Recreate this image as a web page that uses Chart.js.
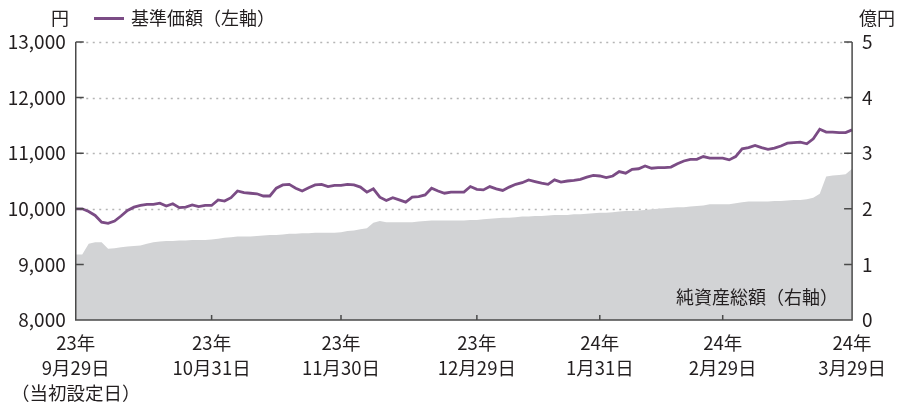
<!DOCTYPE html>
<html lang="ja">
<head>
<meta charset="utf-8">
<script src="https://cdn.jsdelivr.net/npm/chart.js@4.4.1/dist/chart.umd.min.js"></script>
<style>
  body  { margin: 0; background: #fff; }
  #wrap { position: relative; width: 897px; height: 404px; font-family: 'Noto Sans CJK JP', sans-serif; color: #231f20; }
  #chart { position: absolute; left: 0; top: 0; }
  .lbl  { position: absolute; font-size: 18px; line-height: 20px; white-space: nowrap; }
  .swatch { position: absolute; left: 94px; top: 17px; width: 30px; height: 3px; background: #7b4c85; }
</style>
</head>
<body>
<div id="wrap">
  <canvas id="chart" width="897" height="404"></canvas>
  <div class="lbl" style="left:51px;top:7px">円</div>
  <div class="swatch"></div>
  <div class="lbl" style="left:131px;top:7px">基準価額（左軸）</div>
  <div class="lbl" style="left:859px;top:7px">億円</div>
  <div class="lbl" style="left:676px;top:286px">純資産総額（右軸）</div>
</div>
<script>
/* ── Data ───────────────────────────────────────────────────── */
// trading days from 23/9/29 to 24/3/29 (121 points)
const days = Array.from({ length: 121 }, (_, i) => i);

// 基準価額 (円, left axis)
const navPrice = [
  10000, 10000,  9950,  9880,  9760,  9740,  9780,  9870,  9970, 10030,
  10060, 10080, 10080, 10100, 10050, 10090, 10020, 10030, 10070, 10040,
  10060, 10060, 10160, 10140, 10200, 10320, 10290, 10280, 10270, 10230,
  10230, 10370, 10430, 10440, 10370, 10320, 10380, 10430, 10440, 10400,
  10420, 10420, 10440, 10430, 10390, 10300, 10360, 10210, 10150, 10200,
  10160, 10120, 10210, 10220, 10250, 10370, 10320, 10280, 10300, 10300,
  10300, 10400, 10350, 10340, 10400, 10360, 10330, 10390, 10440, 10470,
  10520, 10490, 10460, 10440, 10520, 10480, 10500, 10510, 10530, 10570,
  10600, 10590, 10560, 10590, 10670, 10640, 10710, 10720, 10770, 10730,
  10740, 10740, 10750, 10810, 10860, 10890, 10890, 10940, 10910, 10910,
  10910, 10880, 10940, 11080, 11100, 11140, 11100, 11070, 11090, 11130,
  11180, 11190, 11200, 11170, 11260, 11430, 11380, 11380, 11370, 11370,
  11420
];

// 純資産総額 (億円, right axis)
const netAssets = [
  1.18, 1.18, 1.37, 1.40, 1.40, 1.28, 1.29, 1.31, 1.32, 1.33,
  1.34, 1.37, 1.40, 1.41, 1.42, 1.42, 1.43, 1.43, 1.44, 1.44,
  1.44, 1.45, 1.46, 1.48, 1.49, 1.50, 1.50, 1.50, 1.51, 1.52,
  1.53, 1.53, 1.54, 1.55, 1.55, 1.56, 1.56, 1.57, 1.57, 1.57,
  1.57, 1.58, 1.60, 1.61, 1.63, 1.65, 1.75, 1.78, 1.76, 1.76,
  1.76, 1.76, 1.76, 1.77, 1.78, 1.79, 1.79, 1.79, 1.79, 1.79,
  1.79, 1.80, 1.80, 1.81, 1.82, 1.83, 1.84, 1.84, 1.85, 1.86,
  1.86, 1.87, 1.87, 1.88, 1.89, 1.89, 1.89, 1.90, 1.90, 1.91,
  1.92, 1.93, 1.93, 1.94, 1.95, 1.96, 1.96, 1.97, 1.98, 1.99,
  2.00, 2.01, 2.02, 2.03, 2.03, 2.04, 2.05, 2.06, 2.08, 2.08,
  2.08, 2.08, 2.10, 2.12, 2.13, 2.13, 2.13, 2.13, 2.14, 2.14,
  2.15, 2.16, 2.16, 2.17, 2.20, 2.27, 2.58, 2.60, 2.61, 2.62,
  2.72
];

// x tick positions (index into days) and their labels
const xTickIdx    = [0, 21, 41, 62, 81, 100, 120];
const xTickLabels = [
  ['23年', '9月29日', '（当初設定日）'],
  ['23年', '10月31日'],
  ['23年', '11月30日'],
  ['23年', '12月29日'],
  ['24年', '1月31日'],
  ['24年', '2月29日'],
  ['24年', '3月29日']
];
const leftTicks  = [9000, 10000, 11000, 12000, 13000];
const rightTicks = [1, 2, 3, 4, 5];

/* ── Dotted grid (under data) ───────────────────────────────── */
const dottedGrid = {
  id: 'dottedGrid',
  beforeDatasetsDraw(chart) {
    const { ctx, chartArea: a, scales } = chart;
    ctx.save();
    ctx.strokeStyle = '#b5b5b5';
    ctx.lineWidth = 1.5;
    ctx.setLineDash([2, 4.5]);
    ctx.beginPath();
    leftTicks.forEach(v => {
      const y = Math.round(scales.y.getPixelForValue(v)) + 0.5;
      ctx.moveTo(a.left + 4, y); ctx.lineTo(a.right, y);
    });
    ctx.stroke();
    ctx.restore();
  }
};

/* ── Inward tick marks + axis frame ─────────────────────────── */
const axisMarks = {
  id: 'axisMarks',
  afterDatasetsDraw(chart) {
    const { ctx, chartArea: a, scales } = chart;
    ctx.save();
    ctx.strokeStyle = '#4a4a4a';
    ctx.lineWidth = 1.5;
    ctx.beginPath();
    ctx.moveTo(a.left, a.top);
    ctx.lineTo(a.left, a.bottom);
    ctx.lineTo(a.right, a.bottom);
    ctx.lineTo(a.right, a.top);
    leftTicks.forEach(v => {
      const y = scales.y.getPixelForValue(v);
      ctx.moveTo(a.left, y); ctx.lineTo(a.left + 8, y);
    });
    rightTicks.forEach(v => {
      const y = scales.y1.getPixelForValue(v);
      ctx.moveTo(a.right - 8, y); ctx.lineTo(a.right, y);
    });
    xTickIdx.forEach(i => {
      const x = scales.x.getPixelForValue(i);
      ctx.moveTo(x, a.bottom); ctx.lineTo(x, a.bottom - 5);
    });
    ctx.stroke();
    ctx.restore();
  }
};

const FAMILY = "'Noto Sans CJK JP', sans-serif";
const INK    = '#231f20';

/* ── Chart ──────────────────────────────────────────────────── */
new Chart(document.getElementById('chart'), {
  type: 'line',
  data: {
    labels: days,
    datasets: [
      {
        label: '基準価額（左軸）',
        data: navPrice,
        yAxisID: 'y',
        borderColor: '#7b4c85',
        borderWidth: 2.8,
        pointRadius: 0,
        tension: 0,
        order: 0
      },
      {
        label: '純資産総額（右軸）',
        data: netAssets,
        yAxisID: 'y1',
        borderWidth: 0,
        backgroundColor: '#d2d3d5',
        fill: 'start',
        pointRadius: 0,
        tension: 0,
        order: 1
      }
    ]
  },
  options: {
    responsive: false,
    animation: false,
    layout: { padding: { top: 42 } },
    plugins: { legend: { display: false }, tooltip: { enabled: false } },
    scales: {
      x: {
        type: 'category',
        grid: { display: false, drawTicks: false },
        border: { display: false },
        afterFit: s => { s.height = 84; },
        ticks: {
          autoSkip: false,
          maxRotation: 0,
          padding: 11,
          color: INK,
          font: { family: FAMILY, size: 18.5, lineHeight: 1.33 },
          callback: (v, i) => {
            const k = xTickIdx.indexOf(i);
            return k >= 0 ? xTickLabels[k] : '';
          }
        }
      },
      y: {
        position: 'left',
        min: 8000,
        max: 13000,
        afterFit: s => { s.width = 74; },
        grid: { display: false, drawTicks: false },
        border: { display: false },
        ticks: {
          stepSize: 1000,
          padding: 10,
          color: INK,
          font: { family: FAMILY, size: 19 },
          callback: v => v.toLocaleString('en-US')
        }
      },
      y1: {
        position: 'right',
        min: 0,
        max: 5,
        afterFit: s => { s.width = 40; },
        grid: { display: false, drawTicks: false },
        border: { display: false },
        ticks: { stepSize: 1, padding: 10, color: INK, font: { family: FAMILY, size: 19 } }
      }
    }
  },
  plugins: [dottedGrid, axisMarks]
});
</script>
</body>
</html>
